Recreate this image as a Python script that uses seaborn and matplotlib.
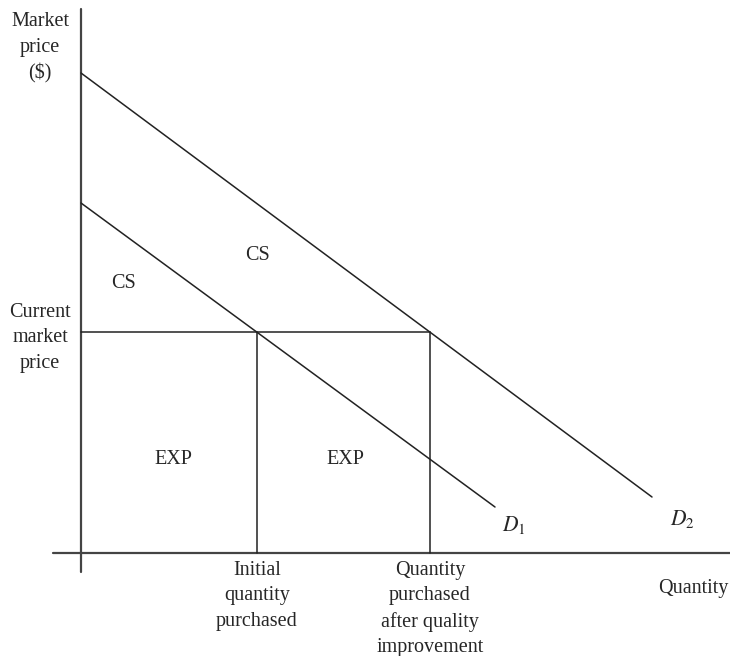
import matplotlib.pyplot as plt
import seaborn as sns
import pandas as pd

# Demand curves (quantity, price) in chart units, origin at the axes corner
d1_q = [0, 414]
d1_p = [350, 46]
d2_q = [0, 571]
d2_p = [480, 56]

current_price = 221
initial_qty = 176
improved_qty = 349

sns.set_theme(style="white")
plt.rcParams['font.family'] = ['Liberation Serif', 'DejaVu Serif']
plt.rcParams['mathtext.fontset'] = 'stix'

fig = plt.figure(figsize=(7.3, 6.56), dpi=100)
ax = fig.add_axes([0, 0, 1, 1])
ax.set_xlim(-81, 649)
ax.set_ylim(-103, 553)
ax.axis('off')

# axes
ax.plot([0, 0], [-19, 544], color='#444444', lw=1.6)
ax.plot([-28, 649], [0, 0], color='#444444', lw=1.6)

curves = pd.concat([
    pd.DataFrame({'q': d1_q, 'p': d1_p, 'curve': 'D1'}),
    pd.DataFrame({'q': d2_q, 'p': d2_p, 'curve': 'D2'}),
])
sns.lineplot(data=curves, x='q', y='p', units='curve', estimator=None,
             color='#222222', lw=1.1, ax=ax, sort=False)

# price and quantity lines
ax.plot([0, improved_qty], [current_price, current_price], color='#222222', lw=1.1)
ax.plot([initial_qty, initial_qty], [0, current_price], color='#222222', lw=1.1)
ax.plot([improved_qty, improved_qty], [0, current_price], color='#222222', lw=1.1)

fs = 14.5
ls = 1.45
ax.text(-41, 505, "Market\nprice\n($)", ha='center', va='center', fontsize=fs, linespacing=ls)
ax.text(-41, 215, "Current\nmarket\nprice", ha='center', va='center', fontsize=fs, linespacing=ls)
ax.text(177, 298, "CS", ha='center', va='center', fontsize=fs)
ax.text(43, 270, "CS", ha='center', va='center', fontsize=fs)
ax.text(92, 93, "EXP", ha='center', va='center', fontsize=fs)
ax.text(264, 93, "EXP", ha='center', va='center', fontsize=fs)
ax.text(initial_qty, -8, "Initial\nquantity\npurchased", ha='center', va='top', fontsize=fs, linespacing=ls)
ax.text(improved_qty, -8, "Quantity\npurchased\nafter quality\nimprovement", ha='center', va='top',
        fontsize=fs, linespacing=ls)
ax.text(612, -35, "Quantity", ha='center', va='center', fontsize=fs)
ax.text(433, 28, "$D_1$", ha='center', va='center', fontsize=fs + 1)
ax.text(601, 34, "$D_2$", ha='center', va='center', fontsize=fs + 1)

fig.savefig("out.png", dpi=100)
